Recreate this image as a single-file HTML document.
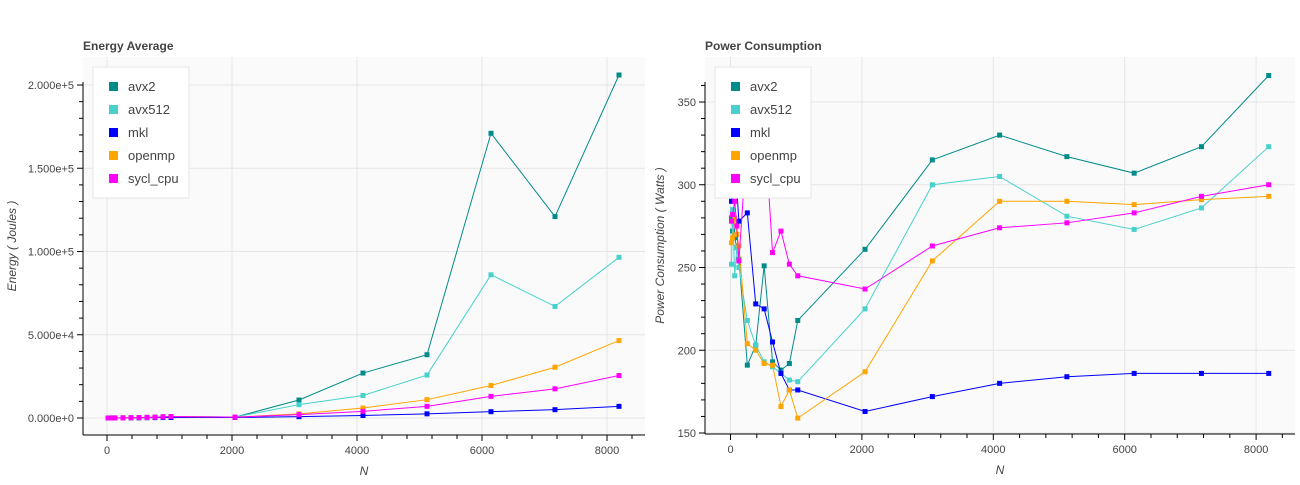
<!DOCTYPE html>
<html><head><meta charset="utf-8"><style>
body{margin:0;background:#fff;font-family:"Liberation Sans",sans-serif}
svg text{font-family:"Liberation Sans",sans-serif}
</style></head><body>
<svg id="s" width="1300" height="480"></svg>
<script>
const N=[16,32,64,96,128,256,384,512,640,768,896,1024,2048,3072,4096,5120,6144,7168,8192];
const seriesNames=["avx2","avx512","mkl","openmp","sycl_cpu"];
const colors=["#008b8b","#48d1cc","#0000ff","#ffa500","#ff00ff"];
const energyAvx2=[1,2,5,12,20,60,130,230,360,520,700,900,500,10800,27000,38000,171000,121000,206000];
const energyAvx512=[1,2,5,12,20,60,130,230,360,520,700,900,600,8000,13500,25800,86000,67000,96500];
const energyMkl=[1,2,5,10,15,40,80,130,180,230,280,320,300,800,1500,2500,3800,5000,7000];
const energyOpenmp=[1,2,5,12,20,60,130,230,360,520,700,900,500,2500,6000,11000,19500,30500,46500];
const energySycl=[1,2,5,12,20,60,130,230,360,520,700,900,500,2000,4000,7000,13000,17500,25500];
const powerAvx2=[280,272,268,262,255,191,203,251,193,188,192,218,261,315,330,317,307,323,366];
const powerAvx512=[252,285,245,262,250,218,203,193,190,186,182,181,225,300,305,281,273,286,323];
const powerMkl=[290,300,305,297,278,283,228,225,205,186,176,176,163,172,180,184,186,186,186];
const powerOpenmp=[265,268,280,270,263,204,200,192,191,166,176,159,187,254,290,290,288,291,293];
const powerSycl=[278,282,290,275,254,330,355,340,259,272,252,245,237,263,274,277,283,293,300];
const energyYTicks=["0.000e+0","5.000e+4","1.000e+5","1.500e+5","2.000e+5"];
const powerYTicks=["150","200","250","300","350"];
const xTicks=["0","2000","4000","6000","8000"];

const svg=document.getElementById('s');
const NS='http://www.w3.org/2000/svg';
function mk(tag,attrs,parent){const e=document.createElementNS(NS,tag);for(const k in attrs)e.setAttribute(k,attrs[k]);(parent||svg).appendChild(e);return e;}

function chart(cfg){
  const g=mk('g',{});
  
  
  const L=cfg.left,R=cfg.right,T=57,B=cfg.bottom;
  const xs=v=>cfg.x0+(v)*cfg.xk;
  const ys=v=>cfg.y0-(v-cfg.ymin)*cfg.yk;
  const bg=mk('rect',{x:L,y:T,width:R-L,height:B-T,fill:'#fafafa'},g);
  
  
  // grid
  xTicks.forEach(t=>{const x=xs(+t);mk('line',{x1:x,x2:x,y1:T,y2:B,stroke:'#e5e5e5'},g);});
  cfg.yTicks.forEach((t,i)=>{const y=ys(cfg.ymin+i*cfg.ystep);mk('line',{x1:L,x2:R,y1:y,y2:y,stroke:'#e5e5e5'},g);});
  // axes
  mk('line',{x1:L,x2:L,y1:T+25,y2:B,stroke:'#000'},g);
  mk('line',{x1:L,x2:R,y1:B,y2:B,stroke:'#000'},g);
  for(let v=0;v<=8400;v+=400){const x=xs(v);if(x<L||x>R)continue;const maj=v%2000===0;mk('line',{x1:x,x2:x,y1:B,y2:B+(maj?6:4),stroke:'#000'},g);}
  xTicks.forEach(t=>{const tx=mk('text',{x:xs(+t),y:B+19,'text-anchor':'middle','font-size':11,fill:'#444'},g);tx.textContent=t;
    });
  const mstep=cfg.ystep/5;
  for(let v=cfg.ymin;ys(v)>=T+25;v+=mstep){const y=ys(v);const maj=Math.abs(((v-cfg.ymin)/cfg.ystep)-Math.round((v-cfg.ymin)/cfg.ystep))<1e-6;mk('line',{x1:L-(maj?6:4),x2:L,y1:y,y2:y,stroke:'#000'},g);}
  cfg.yTicks.forEach((t,i)=>{const tx=mk('text',{x:L-9,y:ys(cfg.ymin+i*cfg.ystep)+4,'text-anchor':'end','font-size':11,fill:'#444'},g);tx.textContent=t;
    });
  const tt=mk('text',{x:L,y:50,'font-size':12,'font-weight':'bold',fill:'#444'},g);tt.textContent=cfg.title;
  
  const xl=mk('text',{x:(L+R)/2,y:B+40,'text-anchor':'middle','font-size':12,'font-style':'italic',fill:'#444'},g);xl.textContent='N';
  
  const yl=mk('text',{x:0,y:0,'text-anchor':'middle','font-size':12,'font-style':'italic',fill:'#444',transform:`translate(${cfg.ylx},${(T+B)/2}) rotate(-90)`},g);yl.textContent=cfg.ytitle;
  
  // series
  cfg.data.forEach((d,si)=>{
    const sg=mk('g',{},g);
    
    
    mk('polyline',{points:d.map((v,i)=>xs(N[i])+','+ys(v)).join(' '),fill:'none',stroke:colors[si],'stroke-width':1},sg);
    d.forEach((v,i)=>{const r=mk('rect',{x:xs(N[i])-2.5,y:ys(v)-2.5,width:5,height:5,fill:colors[si]},sg);
      });
  });
  // legend
  const lg=mk('g',{},g);
  
  
  mk('rect',{x:L+10,y:67,width:96,height:131,fill:'#fff',stroke:'#e5e5e5'},lg);
  seriesNames.forEach((n,i)=>{const y=87+i*23;
    mk('rect',{x:L+26,y:y-5,width:9,height:9,fill:colors[i]},lg);
    const t=mk('text',{x:L+45,y:y+4,'font-size':13,fill:'#444'},lg);t.textContent=n;
    });
}
chart({name:'energy-chart',left:83,right:645,bottom:435,x0:107,xk:0.0625,y0:418,ymin:0,yk:0.001665,ystep:50000,
  yTicks:energyYTicks,title:'Energy Average',ytitle:'Energy ( Joules )',ylx:16,
  data:[energyAvx2,energyAvx512,energyMkl,energyOpenmp,energySycl]});
chart({name:'power-chart',left:705,right:1295,bottom:434,x0:730.5,xk:0.0657,y0:433,ymin:150,yk:1.655,ystep:50,
  yTicks:powerYTicks,title:'Power Consumption',ytitle:'Power Consumption ( Watts )',ylx:664,
  data:[powerAvx2,powerAvx512,powerMkl,powerOpenmp,powerSycl]});
</script>
</body></html>
